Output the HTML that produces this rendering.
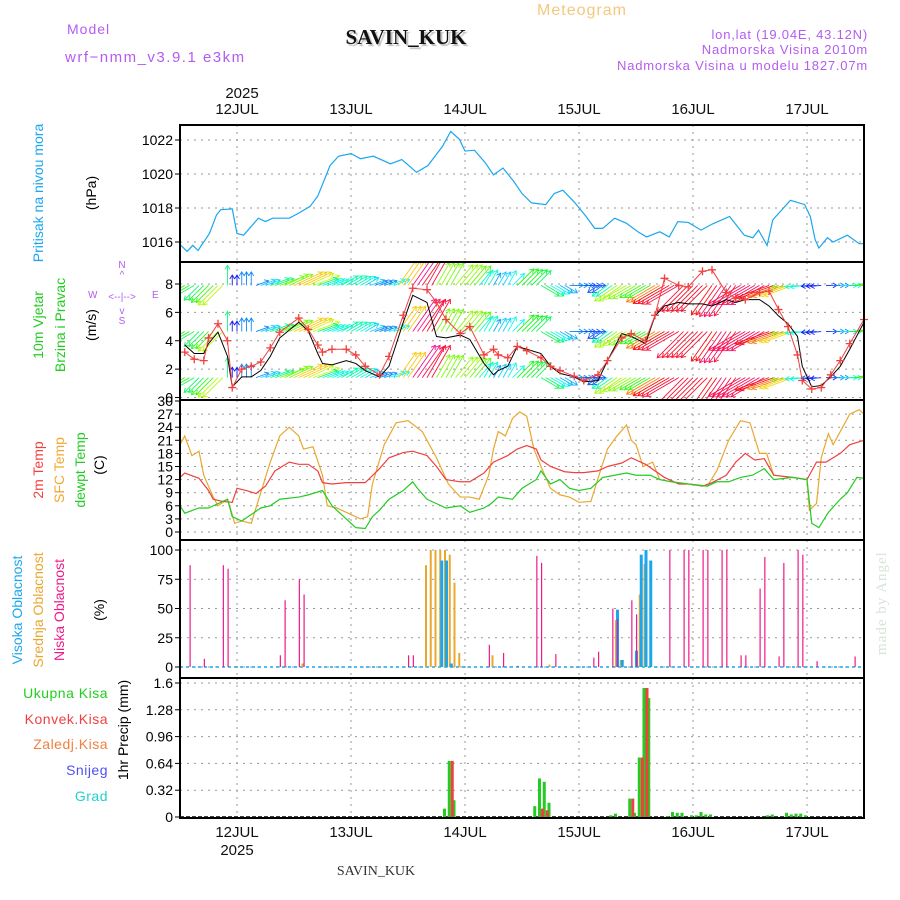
<!DOCTYPE html>
<html><head><meta charset="utf-8">
<style>
html,body{margin:0;padding:0;background:#fff;}
svg{display:block;font-family:"Liberation Sans",sans-serif;}
</style></head>
<body>
<svg id="chart" width="900" height="900" viewBox="0 0 900 900" xmlns="http://www.w3.org/2000/svg">
<text x="582" y="15" fill="#f5c77e" font-size="16" text-anchor="middle" letter-spacing="1">Meteogram</text>
<text x="67" y="34" fill="#b45cf0" font-size="14" letter-spacing="1">Model</text>
<text x="65" y="62" fill="#b45cf0" font-size="15" letter-spacing="1.5">wrf−nmm_v3.9.1  e3km</text>
<text x="406" y="44" fill="#111" font-size="21" font-weight="bold" font-family="Liberation Serif,serif" text-anchor="middle" style="text-shadow:2px 2px 1px #bbb">SAVIN_KUK</text>
<text x="868" y="39" fill="#b45cf0" font-size="13" text-anchor="end" letter-spacing="0.8">lon,lat (19.04E, 43.12N)</text>
<text x="868" y="54" fill="#b45cf0" font-size="13" text-anchor="end" letter-spacing="0.8">Nadmorska Visina 2010m</text>
<text x="868" y="70" fill="#b45cf0" font-size="13" text-anchor="end" letter-spacing="0.8">Nadmorska Visina u modelu 1827.07m</text>
<text x="242" y="98" fill="#111" font-size="15" text-anchor="middle">2025</text>
<text x="376" y="875" fill="#333" font-size="14" font-family="Liberation Serif,serif" text-anchor="middle">SAVIN_KUK</text>
<text x="886" y="655" fill="#d8e4d8" font-size="15" font-family="Liberation Serif,serif" transform="rotate(-90 886 655)" letter-spacing="1">made by Angel</text>

<g font-size="14">
<text transform="translate(43,193) rotate(-90)" fill="#1aa7ee" text-anchor="middle">Pritisak na nivou mora</text>
<text transform="translate(96,193) rotate(-90)" fill="#000" text-anchor="middle">(hPa)</text>
<text transform="translate(43,325) rotate(-90)" fill="#22cc22" text-anchor="middle">10m  Vjetar</text>
<text transform="translate(65,325) rotate(-90)" fill="#22cc22" text-anchor="middle">Brzina i Pravac</text>
<text transform="translate(96,325) rotate(-90)" fill="#000" text-anchor="middle">(m/s)</text>
<text transform="translate(43,470) rotate(-90)" fill="#f04040" text-anchor="middle">2m Temp</text>
<text transform="translate(64,470) rotate(-90)" fill="#f0a830" text-anchor="middle">SFC Temp</text>
<text transform="translate(85,470) rotate(-90)" fill="#22cc22" text-anchor="middle">dewpt Temp</text>
<text transform="translate(104,465) rotate(-90)" fill="#000" text-anchor="middle">(C)</text>
<text transform="translate(22,610) rotate(-90)" fill="#1aa7ee" text-anchor="middle">Visoka  Oblacnost</text>
<text transform="translate(43,610) rotate(-90)" fill="#e8a830" text-anchor="middle">Srednja  Oblacnost</text>
<text transform="translate(64,610) rotate(-90)" fill="#ee1a8a" text-anchor="middle">Niska  Oblacnost</text>
<text transform="translate(104,610) rotate(-90)" fill="#000" text-anchor="middle">(%)</text>
<text x="108" y="698" fill="#22cc22" text-anchor="end" letter-spacing="0.5">Ukupna  Kisa</text>
<text x="108" y="724" fill="#f04040" text-anchor="end" letter-spacing="0.5">Konvek.Kisa</text>
<text x="108" y="749" fill="#f08040" text-anchor="end" letter-spacing="0.5">Zaledj.Kisa</text>
<text x="108" y="775" fill="#5050f0" text-anchor="end" letter-spacing="0.5">Snijeg</text>
<text x="108" y="801" fill="#20d0d0" text-anchor="end" letter-spacing="0.5">Grad</text>
<text transform="translate(128,730) rotate(-90)" fill="#000" text-anchor="middle">1hr Precip (mm)</text>
</g>
<g fill="#b45cf0" font-size="10">
<text x="122" y="268" text-anchor="middle">N</text>
<text x="122" y="278" text-anchor="middle">^</text>
<text x="122" y="300" text-anchor="middle">&lt;--|--&gt;</text>
<text x="88" y="298">W</text><text x="152" y="298">E</text>
<text x="122" y="314" text-anchor="middle">v</text>
<text x="122" y="324" text-anchor="middle">S</text>
</g>
<g id="plots"></g>
</svg>
<script>
// ---- data (hours from 11 JUL 12:00) ----
const dayLabels = ["12JUL","13JUL","14JUL","15JUL","16JUL","17JUL"];
const presT = [0,1.5,2.7,3.8,6.2,7.7,8.6,11,12,13.4,16.5,18,19.5,23,25,27.4,29,31.6,33.4,36,38,40.7,44.3,46.7,49.8,52.2,55.2,57,58.8,60,62,64.3,66,68,70.3,72,74,77,78.8,80.6,83,85.5,87.3,89,91.5,94,96.4,98.2,101,103,104.8,107,109.7,112,115.7,118.8,120.6,121.8,123.6,124.8,128.5,131.5,132.7,133.7,134.5,136.3,137.5,140.5,143,144];
const presV = [1015.85,1015.45,1015.8,1015.5,1016.5,1017.6,1017.9,1017.95,1016.5,1016.4,1017.4,1017.2,1017.4,1017.4,1017.7,1018.1,1018.7,1020.5,1021.05,1021.2,1020.9,1021.05,1020.6,1020.85,1020.1,1020.5,1021.6,1022.5,1022.05,1021.35,1021.4,1020.65,1019.95,1020.35,1019.55,1018.85,1018.3,1018.2,1018.85,1019.05,1018.35,1017.5,1016.8,1016.8,1017.4,1017.1,1016.6,1016.3,1016.6,1016.3,1017.2,1017.15,1016.7,1017.05,1017.5,1016.4,1016.25,1016.7,1015.8,1017.3,1018.45,1018.2,1017.5,1016.15,1015.65,1016.25,1016.0,1016.4,1015.9,1015.9];
const windT = [1,3,5,6,8,10,11,13,15,17,19,21,25,27,29,30,32,35,37,39,42,44,47,49,52,54,56,59,61,64,66,67,69,71,73,76,78,80,83,85,88,90,93,95,98,100,102,105,107,110,112,115,117,119,122,124,126,128,130,131,133,135,137,139,141,144];
const windSpeed = [3.7,3.1,3.1,3.8,4.6,2.9,0.75,1.45,1.45,1.9,2.9,4.2,5.3,4.7,3.1,2.4,2.3,2.6,2.4,1.9,1.45,2.2,5.3,7.2,6.7,4.3,4.2,4.4,4.1,2.4,1.6,1.9,2.2,3.6,3.4,3.1,2.2,1.7,1.45,1.1,1.2,2.6,4.5,4.3,3.8,5.75,6.45,6.7,6.6,6.6,6.45,6.9,6.7,6.9,6.9,6.45,5.75,5.2,4.3,2.2,0.75,0.85,1.45,2.2,3.4,5.3];
const windGust = [3.2,2.7,2.6,4.2,5.2,4.0,0.7,2.0,2.2,2.5,3.5,4.6,5.6,4.8,3.7,3.2,3.4,3.4,3.0,2.2,1.6,2.9,5.8,7.7,7.6,6.7,5.5,4.5,5.0,3.0,3.4,3.0,2.8,3.6,3.3,2.8,2.2,1.9,1.5,1.2,1.6,2.6,4.2,4.5,4.0,5.8,8.4,7.9,7.8,8.9,9.0,7.4,7.0,6.9,7.4,7.5,6.2,5.0,3.0,1.2,0.6,0.7,1.6,2.6,3.8,5.5];
const dirT = [0,6,12,18,24,30,36,42,48,54,60,66,72,78,84,90,96,102,108,114,120,126,132,138,144];
const dirDeg = [210,225,90,20,25,20,30,20,55,60,50,60,45,-30,0,215,210,210,225,235,210,200,185,0,10];
const t2T = [0,1,4,6,7,9,11,12,14,16,18,20,23,25,27,29,30,32,35,39,42,44,47,49,52,54,56,59,61,64,66,69,71,73,75,76,78,81,83,85,88,90,93,95,98,100,102,105,107,110,112,115,117,119,121,123,125,129,132,134,136,139,141,144];
const t2V = [12.5,13.5,12.3,9.5,7.5,7,6.8,10,9.5,8.8,10.5,14,16,15.5,15.5,14,11.3,11,11.3,11.3,14.5,17,18.2,18.5,17.5,15,12,11.5,11.5,13.5,16,17.5,19,19.8,19,16.5,15,13.8,13.6,13.6,14,15,15.8,17,15.5,14,12.5,11,11,10.5,11.3,13,16,18,16.5,16.8,13,12.5,12,16,16,18,20,21];
const sfcT = [0,1,2.5,4,5,7,8,10,11,11.5,13,15,17,19,21,23,25,26,28,30,31,33,36,38,39.5,40.5,43,45.5,48,51,54,56.5,59,61,63,65,66,67,68.5,70,71.5,73,74.5,76,78,80,82,84,86.5,88.5,90,92,94,95,96,97.5,99.5,101,103.5,107,111,113,115.5,118,120,122,123.5,125,129,132,132.5,134,135,136.5,137.5,139.5,141,143,144];
const sfcV = [20,22,17.5,18.5,13,8,6,7.5,4,2,2.5,2,9,16,22,24,22,19,19.5,13,6,5.5,4,3,3.5,11,20,25,25.5,23,17,11,8,8,7.5,13,19,23,22,26,27.5,26.5,19,15,10,8.5,8,6.8,7,14,19,22,24.5,21,20,15,16,12,11.5,11,10.5,14,21,25.5,25,18,18,13,12.5,12,5,6.5,17,22.5,20,24,27,28,27];
const dewT = [0,1,4,6,8,10,11,13,15,17,19,21,25,27,30,32,35,37,39,40.5,42,44,47,49,50,52,54,56,59,61,64,65.5,67,70,72,75,76,78,80,82,84,86.5,89,91.5,94,96,99,101,103.5,107,111,113,115.5,118,120.5,123,125,129,132,133,134.5,136.5,139,140.5,142.5,144];
const dewV = [6,4.3,5.5,5.5,6.5,7.5,3.5,2.5,4,5.5,6,7.5,8,8.5,9.5,6,3,1,0.8,3.5,5,7.5,9.5,11.5,10,7.5,6.5,5.5,6,4.5,5.5,6.5,8,7.5,10,12,14,11,12,10,9.5,10,12.5,13,13.5,13,13,12,11.5,11,10.5,11.5,11.5,12.5,13,14.5,12,12.5,12,2,1,4.5,7.5,9,12.5,12.3];
const lowCloudT = [2,5,9,10,21,22,25,26,48,49,65,68,71,75,76,79,87,88,91,92,95,96,103,106,107,110,111,114,115,118,119,122,123,126,127,130,131,134,142];
const lowCloudV = [87,7,87,84,10,57,75,62,10,10,19,12,1,95,89,11,8,13,50,41,57,45,100,100,100,100,100,100,100,10,10,67,94,9,89,100,96,5,9];
const midCloudT = [26,52,53,54,55,56,57,58,59,66,78,92,93,97,98];
const midCloudV = [3,87,100,100,100,100,96,72,12,10,2,40,6,62,88];
const highCloudT = [55,56,57,92,93,96,97,98,99];
const highCloudV = [91,91,3,49,6,14,96,100,91];
const rainT = [56,57,58,75,76,77,78,91,92,95,96,97,98,99,103,104,105,106,108,109,110,111,112,124,125,128,129,130,131,132];
const rainTotal = [0.1,0.67,0.2,0.13,0.46,0.42,0.17,0.02,0.04,0.22,0.05,0.71,1.54,1.42,0.01,0.06,0.05,0.05,0.02,0.02,0.06,0.03,0.03,0.02,0.03,0.05,0.03,0.04,0.04,0.02];
const rainConv = [0,0.67,0,0,0.1,0.08,0,0,0,0.22,0,0.71,1.54,0,0,0,0,0,0,0,0,0,0,0,0,0,0,0,0,0];
const presTicks = [1016,1018,1020,1022];
const windTicks = [0,2,4,6,8];
const tempTicks = [0,3,6,9,12,15,18,21,24,27,30];
const cloudTicks = [0,25,50,75,100];
const precipTicks = [0,0.32,0.64,0.96,1.28,1.6];
const precipTickLabels = ["0","0.32","0.64","0.96","1.28","1.6"];

// ---- layout ----
const X0 = 180, X1 = 864, HOURS = 144;
const NS = "http://www.w3.org/2000/svg";
const plots = document.getElementById('plots');
function xs(t){ return X0 + (X1 - X0) * t / HOURS; }
function lin(d0, d1, r0, r1){ return v => r0 + (v - d0) * (r1 - r0) / (d1 - d0); }
const yP = lin(1016, 1022, 242, 140);
const yW = lin(0, 8, 397.5, 284);
const yT = lin(0, 30, 532, 401);
const yC = lin(0, 100, 667, 550);
const yR = lin(0, 1.6, 817, 683);
function mk(tag, attrs, parent){
  const e = document.createElementNS(NS, tag);
  for (const k in attrs) e.setAttribute(k, attrs[k]);
  (parent || plots).appendChild(e);
  return e;
}
function panel(name, top, bot, ticks, ys, labels){
  const g = mk('g', {});
  
  
  for (let d = 0; d < dayLabels.length; d++){
    const x = xs(12 + 24 * d);
    mk('line', {x1:x, x2:x, y1:top, y2:bot, stroke:'#999', 'stroke-dasharray':'2,5'}, g);
  }
  ticks.forEach((v, i) => {
    const y = ys(v);
    if (y > top + 2 && y < bot - 2) mk('line', {x1:X0, x2:X1, y1:y, y2:y, stroke:'#999', 'stroke-dasharray':'2,5'}, g);
    mk('line', {x1:X0 - 5, x2:X0, y1:y, y2:y, stroke:'#000'}, g);
    const tx = mk('text', {x:X0 - 7, y:y + 5, 'font-size':14, 'text-anchor':'end', fill:'#000'}, g);
    tx.textContent = labels ? labels[i] : String(v);
  });
  return g;
}
function line(ts, vs, ys, color, name, w){
  const p = mk('polyline', {points: ts.map((t, i) => xs(t) + ',' + ys(vs[i])).join(' '), fill:'none', stroke:color, 'stroke-width':w || 1.2});
  
  
  return p;
}
function nearest(ts, vs, t){
  let bi = 0;
  for (let i = 1; i < ts.length; i++) if (Math.abs(ts[i] - t) < Math.abs(ts[bi] - t)) bi = i;
  return vs[bi];
}

// clip for wind panel
const defs = mk('defs', {});
const cp = mk('clipPath', {id:'windclip'}, defs);
mk('rect', {x:X0, y:263, width:X1 - X0, height:136}, cp);

// panel 1 pressure
panel('pressure-panel', 125, 262, presTicks, yP);
line(presT, presV, yP, '#1aa7ee', 'pressure-line');

// panel 2 wind
panel('wind-panel', 262, 400, windTicks, yW);
const arrowsG = mk('g', {'clip-path':'url(#windclip)'});


[7.9, 4.65, 1.4].forEach(row => {
  for (let h = 0; h <= HOURS; h++){
    const sp = nearest(windT, windSpeed, h);
    const dg = nearest(dirT, dirDeg, h) * Math.PI / 180;
    const L = 7 + sp * 4.5;
    const x0 = xs(h), y0 = yW(row);
    const x1 = x0 + L * Math.cos(dg), y1 = y0 - L * Math.sin(dg);
    const hue = ((270 - sp * 42) % 360 + 360) % 360;
    const col = 'hsl(' + hue + ',95%,52%)';
    const a = mk('line', {x1:x0, y1:y0, x2:x1, y2:y1, stroke:col, 'stroke-width':0.9}, arrowsG);
    
    
    const hx = Math.cos(dg), hy = -Math.sin(dg);
    const p = mk('polyline', {points:(x1 - 4*hx - 2.5*hy) + ',' + (y1 - 4*hy + 2.5*hx) + ' ' + x1 + ',' + y1 + ' ' + (x1 - 4*hx + 2.5*hy) + ',' + (y1 - 4*hy - 2.5*hx), fill:'none', stroke:col, 'stroke-width':0.9}, arrowsG);
    
    
  }
});
line(windT, windSpeed, yW, '#000', 'wind-speed-line', 1);
line(windT, windGust, yW, '#f04040', 'wind-gust-line', 1);
const gustG = mk('g', {});


windT.forEach((t, i) => {
  const x = xs(t), y = yW(windGust[i]);
  mk('path', {d:'M' + (x-4) + ',' + y + 'h8M' + x + ',' + (y-4) + 'v8', stroke:'#f04040', 'stroke-width':1.3}, gustG);
});

// panel 3 temps
panel('temperature-panel', 400, 540, tempTicks, yT);
line(sfcT, sfcV, yT, '#e8a830', 'sfc-temp-line');
line(t2T, t2V, yT, '#f04040', 'temp-2m-line');
line(dewT, dewV, yT, '#22cc22', 'dewpoint-line');

// panel 4 clouds
panel('cloud-panel', 540, 678, cloudTicks, yC);
mk('line', {x1:X0, x2:X1, y1:yC(0), y2:yC(0), stroke:'#1aa7ee', 'stroke-dasharray':'3,3', 'stroke-width':1.5});
function bars(ts, vs, ys, color, w, dx, name){
  const g = mk('g', {});
  
  
  ts.forEach((t, i) => {
    if (vs[i] <= 0) return;
    const r = mk('rect', {x:xs(t) + dx, y:ys(vs[i]), width:w, height:ys(0) - ys(vs[i]), fill:color}, g);
    
    
  });
}
bars(midCloudT, midCloudV, yC, '#e8a830', 2, -2, 'mid-cloud');
bars(highCloudT, highCloudV, yC, '#1aa7ee', 3, -1, 'high-cloud');
bars(lowCloudT, lowCloudV, yC, '#ee1a8a', 1.2, 0, 'low-cloud');

// panel 5 precip
panel('precip-panel', 678, 818, precipTicks, yR, precipTickLabels);
mk('line', {x1:X0, x2:X1, y1:yR(0), y2:yR(0), stroke:'#000', 'stroke-dasharray':'4,2', 'stroke-width':1.5});
bars(rainT, rainTotal, yR, '#22cc22', 3, -3, 'total-rain');
bars(rainT, rainConv, yR, '#f04040', 3, 0, 'convective-rain');

// frames
[[125,262],[262,400],[400,540],[540,678],[678,818]].forEach(([a,b], i) => {
  const r = mk('rect', {x:X0, y:a, width:X1 - X0, height:b - a, fill:'none', stroke:'#000', 'stroke-width':2});
  
  
});
// day labels
dayLabels.forEach((lab, d) => {
  const x = xs(12 + 24 * d);
  const t1 = mk('text', {x:x, y:114, 'font-size':15, 'text-anchor':'middle', fill:'#111'});
  t1.textContent = lab;
  
  
  const t2 = mk('text', {x:x, y:837, 'font-size':15, 'text-anchor':'middle', fill:'#111'});
  t2.textContent = lab;
  
  
});
const yr = mk('text', {x:xs(12), y:855, 'font-size':15, 'text-anchor':'middle', fill:'#111'});
yr.textContent = '2025';


</script>
</body></html>
